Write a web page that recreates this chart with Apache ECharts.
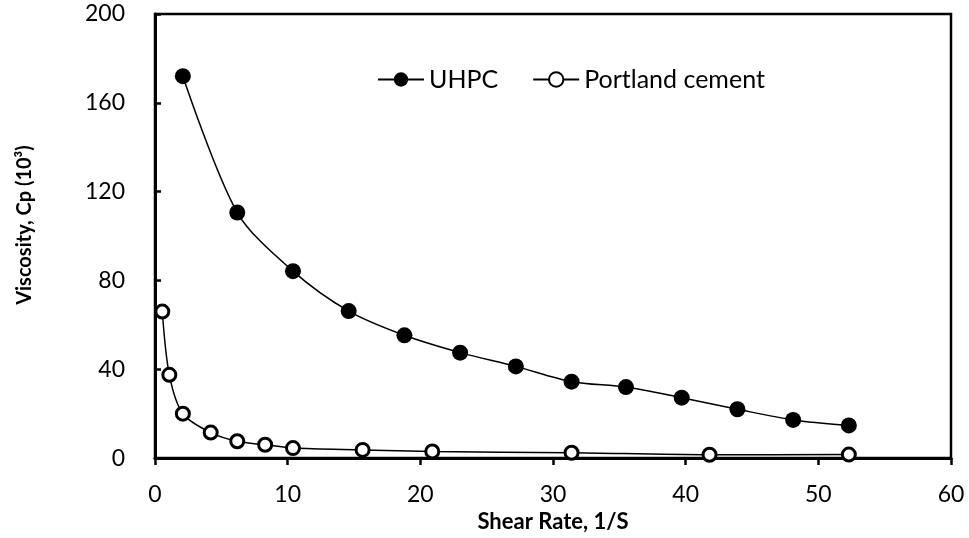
<!DOCTYPE html>
<html>
<head>
<meta charset="utf-8">
<script src="https://cdn.jsdelivr.net/npm/echarts@6/dist/echarts.min.js"></script>
<style>
  html, body { margin: 0; padding: 0; background: #fff; }
  #chart { width: 969px; height: 538px; }
</style>
</head>
<body>
<div id="chart"></div>
<script>
// shear rate (1/S) and viscosity (Cp x 10^3)
const uhpcRate = [2.1, 6.2, 10.4, 14.6, 18.8, 23.0, 27.2, 31.4, 35.5, 39.7, 43.9, 48.1, 52.3]
const uhpcVisc = [172, 110.6, 84.2, 66.2, 55.3, 47.5, 41.3, 34.4, 32.0, 27.2, 22.0, 17.2, 14.7]
const pcRate = [0.55, 1.08, 2.1, 4.2, 6.2, 8.3, 10.4, 15.65, 20.9, 31.4, 41.8, 52.3]
const pcVisc = [66, 37.5, 20, 11.5, 7.6, 6.0, 4.5, 3.7, 3.0, 2.4, 1.5, 1.6]

const xTicks = [0, 10, 20, 30, 40, 50, 60]
const yTicks = [0, 40, 80, 120, 160, 200]

const font = 'Lato, "Open Sans", sans-serif'

const pairs = (xs, ys) => xs.map((x, i) => [x, ys[i]])

const chart = echarts.init(document.getElementById('chart'))
chart.setOption({
  animation: false,
  textStyle: { fontFamily: font, color: '#000' },
  grid: {
    left: 155,
    right: 18,
    top: 14,
    bottom: 78,
    show: true,
    borderColor: '#000',
    borderWidth: 2.5
  },
  legend: {
    left: 377,
    top: 67,
    padding: 0,
    itemWidth: 46,
    itemHeight: 18,
    itemGap: 34,
    textStyle: { fontSize: 25, fontFamily: font, color: '#000', padding: [0, 0, 0, 0] },
    data: ['UHPC', 'Portland cement']
  },
  xAxis: {
    type: 'value',
    min: xTicks[0],
    max: xTicks[xTicks.length - 1],
    interval: 10,
    name: 'Shear Rate, 1/S',
    nameLocation: 'middle',
    nameGap: 48,
    nameTextStyle: { fontSize: 22, fontWeight: 'bold', fontFamily: font, color: '#000' },
    axisLine: { lineStyle: { color: '#000', width: 3 } },
    axisTick: { inside: false, length: 7, lineStyle: { color: '#000', width: 2.5 } },
    axisLabel: { fontSize: 23, color: '#000', margin: 25, fontFamily: font },
    splitLine: { show: false }
  },
  yAxis: {
    type: 'value',
    min: yTicks[0],
    max: yTicks[yTicks.length - 1],
    interval: 40,
    name: 'Viscosity, Cp (10³)',
    nameLocation: 'middle',
    nameGap: 120,
    nameTextStyle: { fontSize: 20, fontWeight: 'bold', fontFamily: font, color: '#000', padding: [0, 0, 0, 22] },
    axisLine: { show: true, lineStyle: { color: '#000', width: 3 } },
    axisTick: { show: true, inside: true, length: 6, lineStyle: { color: '#000', width: 2.5 } },
    axisLabel: { fontSize: 23, color: '#000', margin: 30, fontFamily: font },
    splitLine: { show: false }
  },
  series: [{
    name: 'UHPC',
    type: 'line',
    smooth: 0.3,
    data: pairs(uhpcRate, uhpcVisc),
    symbol: 'circle',
    symbolSize: 16,
    itemStyle: { color: '#000', borderColor: '#000', borderWidth: 0 },
    lineStyle: { color: '#000', width: 1.5 }
  }, {
    name: 'Portland cement',
    type: 'line',
    smooth: 0.3,
    data: pairs(pcRate, pcVisc),
    symbol: 'circle',
    symbolSize: 13,
    itemStyle: { color: '#fff', borderColor: '#000', borderWidth: 3 },
    lineStyle: { color: '#000', width: 1.5 }
  }]
})
</script>
</body>
</html>
